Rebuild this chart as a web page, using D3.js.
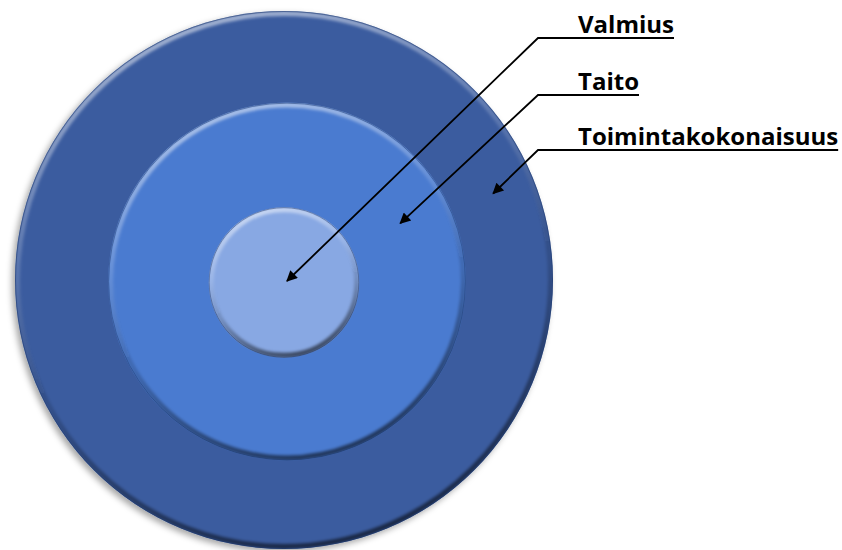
<!DOCTYPE html>
<html><head><meta charset="utf-8">
<script src="https://cdn.jsdelivr.net/npm/d3@7"></script>
<style>html,body{margin:0;padding:0;background:#fff;overflow:hidden}</style>
</head><body>
<svg id="chart" width="842" height="550"></svg>
<script>
// Data: nested levels, from inner to outer
const levels = ["Valmius", "Taito", "Toimintakokonaisuus"];
const levelSizes = [28, 66.5, 100];          // relative radius (% of outer)
const levelColors = ["#88a8e3", "#4a7bd0", "#3a5c9f"];
const labelAngles = [0, -27, -23];           // degrees where each arrow points in its ring

const svg = d3.select("#chart");
const W = 842, H = 550;
const cx = 284, cy = 280, R = 269;
const rScale = d3.scaleLinear().domain([0, 100]).range([0, R]);

const defs = svg.append("defs");
const shadow = defs.append("filter").attr("id", "shadow").attr("x", "-20%").attr("y", "-20%").attr("width", "140%").attr("height", "140%");
shadow.append("feDropShadow").attr("dx", -3).attr("dy", 3).attr("stdDeviation", 3)
  .attr("flood-color", "#000").attr("flood-opacity", 0.35);
const blur = defs.append("filter").attr("id", "blur").attr("x", "-10%").attr("y", "-10%").attr("width", "120%").attr("height", "120%");
blur.append("feGaussianBlur").attr("stdDeviation", 1.6);

const bevel = defs.append("linearGradient").attr("id", "bevel")
  .attr("x1", 0.35).attr("y1", 0).attr("x2", 0.65).attr("y2", 1);
bevel.append("stop").attr("offset", "0%").attr("stop-color", "#ffffff").attr("stop-opacity", 0.55);
bevel.append("stop").attr("offset", "35%").attr("stop-color", "#ffffff").attr("stop-opacity", 0.15);
bevel.append("stop").attr("offset", "60%").attr("stop-color", "#000000").attr("stop-opacity", 0.15);
bevel.append("stop").attr("offset", "100%").attr("stop-color", "#000000").attr("stop-opacity", 0.6);

const centers = [[284, 282.5], [287, 281.5], [cx, cy]];

const order = d3.range(levels.length).reverse(); // draw outer first
order.forEach(i => {
  const r = rScale(levelSizes[i]);
  const [x, y] = centers[i];
  defs.append("clipPath").attr("id", "clip" + i).append("circle").attr("cx", x).attr("cy", y).attr("r", r);
  svg.append("circle").attr("cx", x).attr("cy", y).attr("r", r)
    .attr("fill", levelColors[i]).attr("filter", i === 2 ? "url(#shadow)" : null);
  const g = svg.append("g").attr("clip-path", `url(#clip${i})`);
  g.append("circle").attr("cx", x).attr("cy", y).attr("r", r - 2.5)
    .attr("fill", "none").attr("stroke", "url(#bevel)").attr("stroke-width", 5)
    .attr("filter", "url(#blur)");
  svg.append("circle").attr("cx", x).attr("cy", y).attr("r", r - 0.5)
    .attr("fill", "none").attr("stroke", "#1d3567").attr("stroke-opacity", 0.45).attr("stroke-width", 1);
});

// arrow marker
defs.append("marker").attr("id", "arrow").attr("viewBox", "0 0 10 10")
  .attr("refX", 9).attr("refY", 5).attr("markerWidth", 14).attr("markerHeight", 11)
  .attr("markerUnits", "userSpaceOnUse").attr("orient", "auto")
  .append("path").attr("d", "M0,0 L10,5 L0,10 Z").attr("fill", "#000");

const labelX = 578, elbowX = 538;
const baselines = [33, 90, 145];
const lineGap = 5;

levels.forEach((name, i) => {
  const inner = i === 0 ? 0 : rScale(levelSizes[i - 1]);
  const outer = rScale(levelSizes[i]);
  const rMid = i === 0 ? 0 : (inner + outer) / 2;
  const a = labelAngles[i] * Math.PI / 180;
  const tip = [cx + 3 + rMid * Math.cos(a), cy + 1 + rMid * Math.sin(a)];
  const text = svg.append("text").attr("x", labelX).attr("y", baselines[i])
    .attr("font-family", "'Open Sans', sans-serif").attr("font-weight", 700)
    .attr("font-size", 24).attr("fill", "#000").text(name);
  const tw = text.node().getComputedTextLength();
  const ly = baselines[i] + lineGap;
  svg.append("path")
    .attr("d", `M${labelX + tw},${ly} L${elbowX},${ly} L${tip[0]},${tip[1]}`)
    .attr("fill", "none").attr("stroke", "#000").attr("stroke-width", 1.8)
    .attr("marker-end", "url(#arrow)");
});
</script>
</body></html>
